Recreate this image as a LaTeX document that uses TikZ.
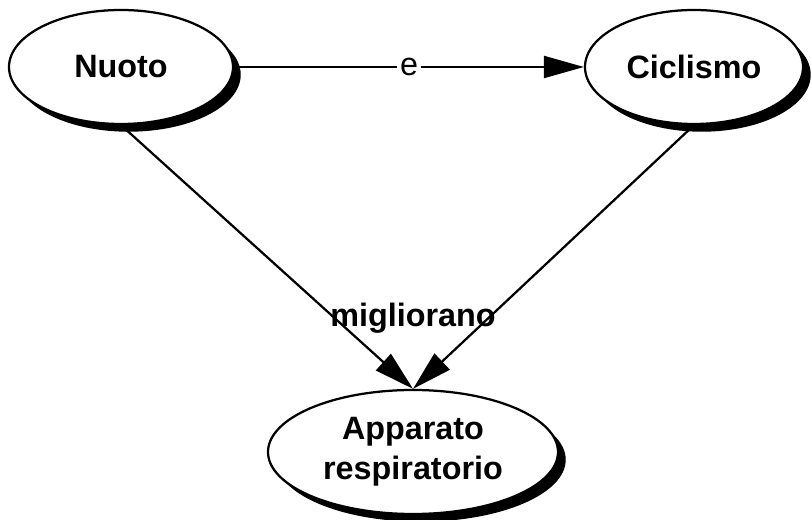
\documentclass[tikz,border=0pt]{standalone}
\usepackage{fontspec}
\setmainfont{Liberation Sans}
\usetikzlibrary{shapes.geometric,shadows,arrows.meta}

\tikzset{
  concept/.style={ellipse, draw, line width=1.6pt, fill=white,
    font=\bfseries\fontsize{23}{28.5}\selectfont, align=center,
    drop shadow={shadow xshift=5.5pt, shadow yshift=-5.5pt, fill=black, opacity=1}},
  link/.style={line width=1.6pt, -{Triangle[length=1cm, width=0.55cm]}}
}

\begin{document}
\begin{tikzpicture}
  \useasboundingbox (0,0) rectangle (20.275,13);

  % Draw the three concepts
  \node[concept, minimum width=5.6cm, minimum height=2.85cm] (nuoto) at (3.025,11.325) {Nuoto};
  \node[concept, minimum width=5.45cm, minimum height=2.85cm] (ciclismo) at (17.35,11.325) {Ciclismo};
  \node[concept, minimum width=7.25cm, minimum height=3.1cm] (apparato) at (10.325,1.7) {Apparato\\respiratorio};

  % Link between the two sports
  \draw[link] (nuoto) -- node[fill=white, inner sep=2pt, font=\fontsize{23}{26}\selectfont] (e) {e} (ciclismo);

  % Both improve the respiratory system
  \draw[link] (nuoto.south) -- (apparato.north);
  \draw[link] (ciclismo.south) -- (apparato.north);
  \node[font=\bfseries\fontsize{23}{26}\selectfont] (migliorano) at (10.325,5.05) {migliorano};

\end{tikzpicture}
\end{document}
